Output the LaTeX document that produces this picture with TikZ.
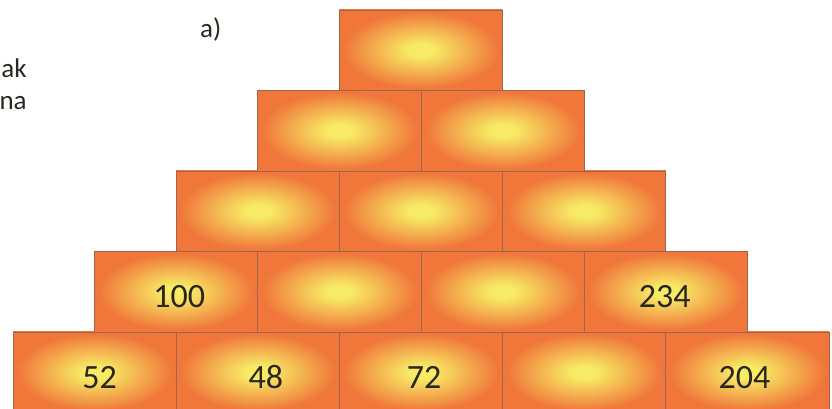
\documentclass[tikz,border=0pt]{standalone}
\usepackage{fontspec}
\setmainfont{Carlito}
\usetikzlibrary{positioning}
\definecolor{brickin}{HTML}{F7EA64}
\definecolor{brickout}{HTML}{F0763A}
\definecolor{brickline}{HTML}{9C6650}
\definecolor{numtext}{HTML}{2B2620}
\pgfdeclareradialshading{brickglow}{\pgfpoint{0bp}{0bp}}{color(0bp)=(brickin); color(4bp)=(brickin); color(14bp)=(brickin!50!brickout); color(24bp)=(brickout); color(50bp)=(brickout)}
\tikzset{
  brick/.style={draw=brickline, line width=0.9pt, shading=brickglow, minimum width=163.2pt, minimum height=80.5pt, inner sep=0pt, outer sep=0pt},
  num/.style={font=\fontsize{34}{40}\selectfont, text=numtext, inner sep=0pt},
  side/.style={font=\fontsize{27}{32}\selectfont, text=numtext, inner sep=0pt}
}

\begin{document}
\begin{tikzpicture}[x=163.2pt,y=80.5pt]
\useasboundingbox (-0.0797,0.0435) rectangle (5.0184,5.124);
% bottom row
\node[brick] (b11) at (0.5,0.5) {};
\node[brick] (b12) at (1.5,0.5) {};
\node[brick] (b13) at (2.5,0.5) {};
\node[brick] (b14) at (3.5,0.5) {};
\node[brick] (b15) at (4.5,0.5) {};
% second row
\node[brick] (b21) at (1,1.5) {};
\node[brick] (b22) at (2,1.5) {};
\node[brick] (b23) at (3,1.5) {};
\node[brick] (b24) at (4,1.5) {};
% third row
\node[brick] (b31) at (1.5,2.5) {};
\node[brick] (b32) at (2.5,2.5) {};
\node[brick] (b33) at (3.5,2.5) {};
% fourth row
\node[brick] (b41) at (2,3.5) {};
\node[brick] (b42) at (3,3.5) {};
% top
\node[brick] (b51) at (2.5,4.5) {};
% numbers
\node[num] (n11) at ([xshift=5pt,yshift=-5pt]b11) {52};
\node[num] (n12) at ([xshift=8pt,yshift=-5pt]b12) {48};
\node[num] (n13) at ([xshift=3pt,yshift=-5pt]b13) {72};
\node[num] (n15) at ([xshift=-3pt,yshift=-5pt]b15) {204};
\node[num] (n21) at ([xshift=3pt,yshift=-5pt]b21) {100};
\node[num] (n24) at ([xshift=-1pt,yshift=-5pt]b24) {234};
% side text
\node[side, anchor=base west] (parta) at (1.146,4.652) {a)};
\node[side, anchor=base east] (cuta) at (0.085,4.155) {ak};
\node[side, anchor=base east] (cutb) at (0.085,3.758) {na};
\end{tikzpicture}
\end{document}
